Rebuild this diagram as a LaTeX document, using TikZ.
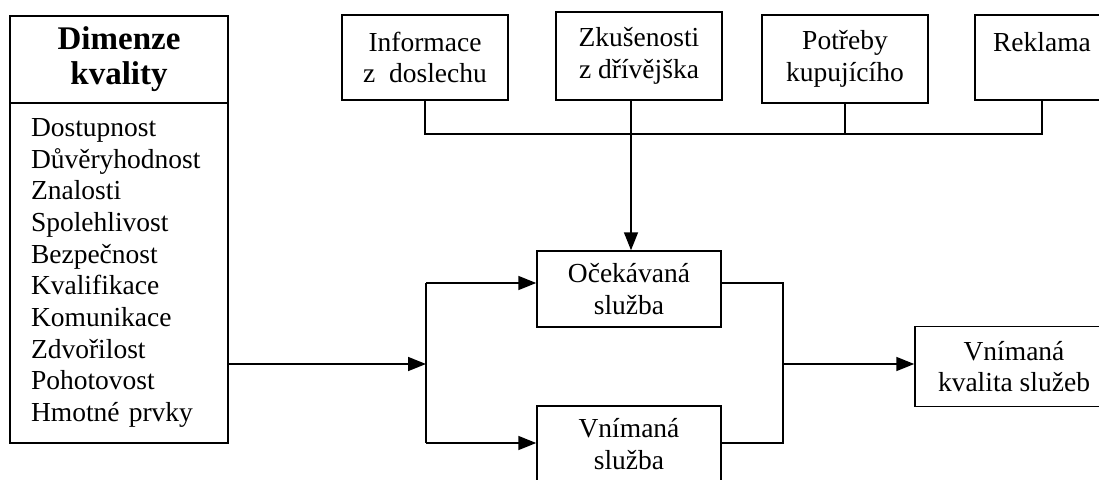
\documentclass[tikz,border=0pt]{standalone}
\usepackage{fontspec}
\setmainfont{Liberation Serif}
\usetikzlibrary{arrows.meta}
\begin{document}
\begin{tikzpicture}[x=1pt,y=-1pt,
  box/.style={draw, line width=1.5pt, inner sep=0pt, align=center, font=\fontsize{27.5}{31.5}\selectfont},
  conn/.style={line width=1.6pt},
  arr/.style={conn, -{Triangle[length=18pt,width=14pt]}}]
\clip (0,0) rectangle (1099,479);
% left box
\node[box, minimum width=218pt, minimum height=87pt, font=\bfseries\fontsize{33}{35}\selectfont] (dimT) at (119,59.5) {Dimenze\\kvality};
\node[box, minimum width=218pt, minimum height=340pt, align=left, text width=176pt, font=\fontsize{27.5}{31.7}\selectfont] (dimL) at (119,273)
 {Dostupnost\\Důvěryhodnost\\Znalosti\\Spolehlivost\\Bezpečnost\\Kvalifikace\\Komunikace\\Zdvořilost\\Pohotovost\\Hmotné prvky};
% top boxes
\node[box, minimum width=166pt, minimum height=85pt] (inf) at (425,57.5) {Informace\\z\ \ doslechu};
\node[box, minimum width=166pt, minimum height=88pt] (zku) at (639,56) {Zkušenosti\\z dřívějška};
\node[box, minimum width=166pt, minimum height=88pt] (pot) at (845,59) {Potřeby\\kupujícího};
\node[box, minimum width=134pt, minimum height=85pt] (rek) at (1042,57.5) {Reklama\\\mbox{}};
% middle boxes
\node[box, minimum width=184pt, minimum height=76pt] (ock) at (629,289) {Očekávaná\\služba};
\node[box, minimum width=184pt, minimum height=76pt] (vni) at (629,444) {Vnímaná\\služba};
\node[box, minimum width=198pt, minimum height=80pt] (kva) at (1014,366.5) {Vnímaná\\kvalita služeb};
% coordinates
\coordinate (bus) at (426,134);
\coordinate (zkx) at (631,0);
\coordinate (split) at (426,364);
\coordinate (merge) at (783,364);
\coordinate (up) at (426,283);
\coordinate (dn) at (426,443);
% connectors
\draw[conn] (inf.south) -- (inf.south |- bus) -- (rek.south |- bus) -- (rek.south);
\draw[conn] (pot.south) -- (pot.south |- bus);
\draw[arr] (zkx |- zku.south) -- (zkx |- ock.north);
\draw[arr] (dimL.east |- split) -- (split);
\draw[conn] (up) -- (dn);
\draw[arr] (up) -- (up -| ock.west);
\draw[arr] (dn) -- (dn -| vni.west);
\draw[conn] (up -| ock.east) -- (up -| merge) -- (dn -| merge) -- (dn -| vni.east);
\draw[arr] (merge) -- (merge -| kva.west);
\end{tikzpicture}
\end{document}
